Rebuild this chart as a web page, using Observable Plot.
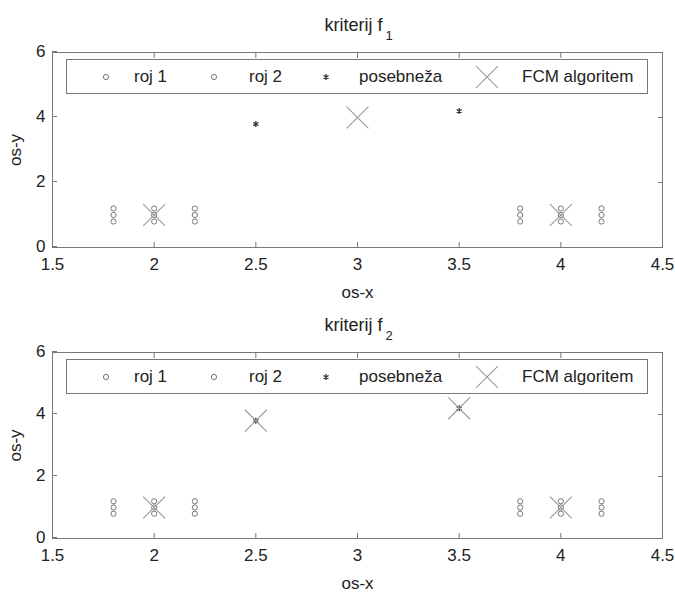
<!DOCTYPE html>
<html>
<head>
<meta charset="utf-8">
<script src="https://cdn.jsdelivr.net/npm/d3@7"></script>
<script src="https://cdn.jsdelivr.net/npm/@observablehq/plot@0.6"></script>
<style>
  html, body { margin: 0; padding: 0; background: #fff; }
  #wrap { position: relative; width: 675px; height: 596px; font-family: "Liberation Sans", Arial, sans-serif; color: #222; }
  .panel { position: absolute; left: 0; }
  .legend { position: absolute; border: 1px solid #777; background: #fff; box-sizing: border-box; }
  .legend span { position: absolute; font-size: 17px; line-height: 17px; white-space: nowrap; }
  .legend svg { position: absolute; overflow: visible; }
</style>
</head>
<body>
<div id="wrap"></div>
<script>
// ---- data ----
const roj1X = [1.8, 1.8, 1.8, 2, 2, 2, 2.2, 2.2, 2.2];
const roj1Y = [0.8, 1, 1.2, 0.8, 1, 1.2, 0.8, 1, 1.2];
const roj2X = [3.8, 3.8, 3.8, 4, 4, 4, 4.2, 4.2, 4.2];
const roj2Y = [0.8, 1, 1.2, 0.8, 1, 1.2, 0.8, 1, 1.2];
const outlierX = [2.5, 3.5];
const outlierY = [3.8, 4.2];
const fcm1X = [2, 4, 3];
const fcm1Y = [1, 1, 4];
const fcm2X = [2, 4, 2.5, 3.5];
const fcm2Y = [1, 1, 3.8, 4.2];
const xTicks = [1.5, 2, 2.5, 3, 3.5, 4, 4.5];
const yTicks = [0, 2, 4, 6];
const legendLabels = ["roj 1", "roj 2", "posebneža", "FCM algoritem"];
const titles = ["kriterij f", "kriterij f"];
const subscripts = ["1", "2"];

const zip = (xs, ys) => xs.map((x, i) => ({x, y: ys[i]}));

const wrap = document.getElementById("wrap");

function makePanel(idx, fcmX, fcmY, top, height, marginBottom) {
  const plot = Plot.plot({
    width: 675,
    height: height,
    marginLeft: 52,
    marginRight: 13,
    marginTop: 52,
    marginBottom: marginBottom,
    style: {fontFamily: '"Liberation Sans", Arial, sans-serif', fontSize: "17px", color: "#222", background: "white", overflow: "visible"},
    x: {domain: [1.5, 4.5]},
    y: {domain: [0, 6]},
    marks: [
      Plot.frame({stroke: "#777"}),
      Plot.axisX(xTicks, {anchor: "bottom", tickSize: -5, tickPadding: 15, stroke: "#777", tickFormat: d => String(d), label: "os-x", labelArrow: "none", labelAnchor: "center", labelOffset: 50, fill: "#222"}),
      Plot.axisX(xTicks, {anchor: "top", tickSize: -5, stroke: "#777", tickFormat: () => "", label: null}),
      Plot.axisY(yTicks, {anchor: "left", tickSize: -5, tickPadding: 12, dy: -1, stroke: "#777", tickFormat: d => String(d), label: "os-y", labelArrow: "none", labelAnchor: "center", labelOffset: 44, fill: "#222"}),
      Plot.axisY(yTicks, {anchor: "right", tickSize: -5, stroke: "#777", tickFormat: () => "", label: null}),
      Plot.dot(zip(roj1X, roj1Y), {x: "x", y: "y", r: 2.6, stroke: "#777", strokeWidth: 1, fill: "none"}),
      Plot.dot(zip(roj2X, roj2Y), {x: "x", y: "y", r: 2.6, stroke: "#777", strokeWidth: 1, fill: "none"}),
      Plot.dot(zip(outlierX, outlierY), {x: "x", y: "y", r: 2.8, symbol: "asterisk", stroke: "#333", strokeWidth: 1.3}),
      Plot.dot(zip(fcmX, fcmY), {x: "x", y: "y", r: 10, symbol: "times", stroke: "#999", strokeWidth: 1.1}),
      Plot.text([titles[idx]], {frameAnchor: "top", text: d => d, textAnchor: "end", dx: 25, dy: -34, fontSize: 18, fill: "#222"}),
      Plot.text([subscripts[idx]], {frameAnchor: "top", text: d => d, textAnchor: "start", dx: 28, dy: -22, fontSize: 13, fill: "#222"})
    ]
  });
  const div = document.createElement("div");
  div.className = "panel";
  div.style.top = top + "px";
  div.appendChild(plot);
  wrap.appendChild(div);
}

function makeLegend(top) {
  const box = document.createElement("div");
  box.className = "legend";
  box.style.left = "66px";
  box.style.top = top + "px";
  box.style.width = "582px";
  box.style.height = "35px";
  wrap.appendChild(box);
  const cy = 17;
  const symX = [39, 147, 259, 420];
  const textX = [67, 182, 292, 455];
  const symbols = [
    {type: d3.symbolCircle, r: 2.6, stroke: "#777", sw: 1},
    {type: d3.symbolCircle, r: 2.6, stroke: "#777", sw: 1},
    {type: d3.symbolAsterisk, r: 2.8, stroke: "#333", sw: 1.3},
    {type: d3.symbolTimes, r: 10, stroke: "#999", sw: 1.1}
  ];
  legendLabels.forEach((lab, i) => {
    const s = symbols[i];
    const svg = d3.create("svg").attr("width", 1).attr("height", 1)
      .style("left", symX[i] + "px").style("top", cy + "px");
    svg.append("path")
      .attr("d", d3.symbol(s.type, Math.PI * s.r * s.r)())
      .attr("fill", "none").attr("stroke", s.stroke).attr("stroke-width", s.sw);
    box.appendChild(svg.node());
    const t = document.createElement("span");
    t.textContent = lab;
    t.style.left = textX[i] + "px";
    t.style.top = (cy - 9) + "px";
    box.appendChild(t);
  });
}

makePanel(0, fcm1X, fcm1Y, 0, 300, 53);
makePanel(1, fcm2X, fcm2Y, 300, 296, 58);
makeLegend(59);
makeLegend(359);
</script>
</body>
</html>
